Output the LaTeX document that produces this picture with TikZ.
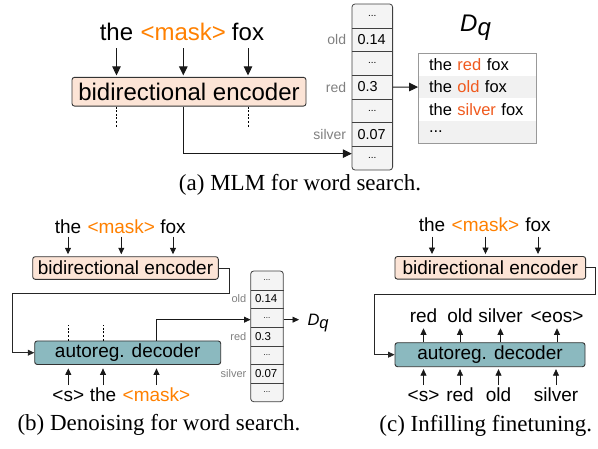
\documentclass[tikz,border=0pt]{standalone}
\usepackage{fontspec}
\setmainfont{Liberation Serif}
\newfontfamily\hv{Liberation Sans}
\usetikzlibrary{arrows.meta,calc}
\definecolor{encfill}{HTML}{FCE4D6}
\definecolor{decfill}{HTML}{8BB9BF}
\definecolor{maskc}{HTML}{FF8000}
\definecolor{hitc}{HTML}{F05A1E}
\definecolor{cellfill}{HTML}{F4F4F4}
\definecolor{rowfill}{HTML}{F1F1F1}
\definecolor{labc}{HTML}{808080}
\newcommand{\fsz}[1]{\fontsize{#1}{#1}\selectfont}
\newcommand{\msk}{\textcolor{maskc}{<mask>}}
\begin{document}
\begin{tikzpicture}[x=1pt,y=-1pt,
  every node/.style={inner sep=0pt, font=\hv},
  wordA/.style={anchor=base, font=\hv\fsz{24}},
  wordB/.style={anchor=base, font=\hv\fsz{19}},
  boxline/.style={draw=black!80, line width=0.9pt, rounded corners=2.5pt},
  encA/.style={boxline, fill=encfill, minimum width=234pt, minimum height=28.7pt, font=\hv\fsz{24}},
  encB/.style={boxline, fill=encfill, minimum height=22.6pt, font=\hv\fsz{19}},
  decB/.style={boxline, fill=decfill, minimum height=23.5pt, font=\hv\fsz{19}},
  arrA/.style={-{Triangle[length=9pt,width=8.5pt]}, line width=1pt, draw=black!90},
  arrB/.style={-{Triangle[length=6.5pt,width=6pt]}, line width=0.8pt, draw=black!90},
  conn/.style={line width=0.8pt, draw=black!85},
  dashl/.style={dash pattern=on 2pt off 1.6pt, line width=0.8pt},
  colframe/.style={draw=black!75, fill=cellfill, line width=0.8pt, rounded corners=3pt},
  cellA/.style={minimum width=40.6pt, minimum height=23.7pt, font=\hv\fsz{10}},
  valA/.style={cellA, text width=29.6pt, align=left, font=\hv\fsz{14.4}},
  labA/.style={anchor=east, text=labc, font=\hv\fsz{14}},
  cellB/.style={minimum width=32.6pt, minimum height=18.67pt, font=\hv\fsz{8}},
  valB/.style={cellB, text width=24pt, align=left, font=\hv\fsz{11.5}},
  labB/.style={anchor=east, text=labc, font=\hv\fsz{11}},
  rowL/.style={minimum width=118.4pt, minimum height=22.5pt, text width=97pt, align=left, font=\hv\fsz{16.5}},
  captxt/.style={anchor=base, font=\rmfamily\fsz{23}}
]
\useasboundingbox (0,0) rectangle (598,448);

% ================= (a) =================
\node[wordA] (aw1) at (116.5,40) {the};
\node[wordA] (aw2) at (183.3,40) {\msk};
\node[wordA] (aw3) at (248,40) {fox};
\node[encA] (encA) at (189,91.7) {bidirectional encoder};
\foreach \i in {1,2,3}
  \draw[arrA, shorten >=1.5pt] ($(aw\i.base)+(0,8.3)$) -- (aw\i.base |- encA.north);
\draw[dashl] (encA.south -| aw1) -- ++(0,20.7);
\draw[dashl] (encA.south -| aw3) -- ++(0,20.7);

% column a
\draw[colframe] (352,4) rectangle (392.6,170);
\node[cellA] (cA1) at (372.3,15.86) {...};
\node[valA]  (cA2) at (372.3,39.57) {0.14};
\node[cellA] (cA3) at (372.3,63.29) {...};
\node[valA]  (cA4) at (372.3,87.0) {0.3};
\node[cellA] (cA5) at (372.3,110.71) {...};
\node[valA]  (cA6) at (372.3,134.43) {0.07};
\node[cellA] (cA7) at (372.3,158.14) {...};
\foreach \i in {1,...,6}
  \draw[draw=black!75, line width=0.8pt] (cA\i.south west) -- (cA\i.south east);
\node[labA] (lA2) at ($(cA2.west)+(-5.5,0)$) {old};
\node[labA] (lA4) at ($(cA4.west)+(-5.5,0)$) {red};
\node[labA] (lA6) at ($(cA6.west)+(-5.5,0)$) {silver};

\draw[arrA] (encA.south -| aw2) |- ($(cA7.west)+(0,-4.5)$);

% list
\node[rowL, fill=white]   (L1) at (477.5,64.55) {the \textcolor{hitc}{red} fox};
\node[rowL, fill=rowfill] (L2) at (477.5,87.05) {the \textcolor{hitc}{old} fox};
\node[rowL, fill=white]   (L3) at (477.5,109.55) {the \textcolor{hitc}{silver} fox};
\node[rowL, fill=rowfill] (L4) at (477.5,132.05) {...};
\draw[draw=black!40, line width=0.9pt] (L1.north west) rectangle (L4.south east);
\draw[arrA] (cA4.east) -- (L2.west);
\node[anchor=base west, font=\hv\fsz{24}\itshape] (dqA) at (460,31.7) {D\raisebox{-4pt}{q}};

\node[captxt] (capA) at (300,190) {(a) MLM for word search.};

% ================= (b) =================
\node[wordB] (bw1) at (68,233.3) {the};
\node[wordB] (bw2) at (121.3,233.3) {\msk};
\node[wordB] (bw3) at (173,233.3) {fox};
\node[encB, minimum width=185.6pt] (encB) at (125.5,268) {bidirectional encoder};
\foreach \i in {1,2,3}
  \draw[arrB, shorten >=2pt] ($(bw\i.base)+(0,3.4)$) -- (bw\i.base |- encB.north);
\node[decB, minimum width=186pt] (decB) at (127.7,352.7) {autoreg. decoder};
\coordinate (bk1) at (229,293.3);
\coordinate (bk2) at (12.7,293.3);
\draw[conn, -{Triangle[length=6.5pt,width=6pt]}] (encB.east) -| (bk1) -- (bk2) |- (decB.west);

\node[wordB] (bi1) at (68.3,401.7) {<s>};
\node[wordB] (bi2) at (103,401.7) {the};
\node[wordB] (bi3) at (156.5,401.7) {\msk};
\foreach \i in {1,2,3}
  \draw[arrB, shorten >=3.5pt] ($(bi\i.base)+(0,-16.7)$) -- (bi\i.base |- decB.south);
\draw[dashl] (decB.north -| bi1) -- ++(0,-16);
\draw[dashl] (decB.north -| bi2) -- ++(0,-16);

% column b
\draw[colframe] (250.7,271) rectangle (283.3,401.7);
\node[cellB] (cB1) at (267,280.33) {...};
\node[valB]  (cB2) at (267,299.0) {0.14};
\node[cellB] (cB3) at (267,317.67) {...};
\node[valB]  (cB4) at (267,336.33) {0.3};
\node[cellB] (cB5) at (267,355.0) {...};
\node[valB]  (cB6) at (267,373.67) {0.07};
\node[cellB] (cB7) at (267,392.33) {...};
\foreach \i in {1,...,6}
  \draw[draw=black!75, line width=0.7pt] (cB\i.south west) -- (cB\i.south east);
\node[labB] (lB2) at ($(cB2.west)+(-4,0)$) {old};
\node[labB] (lB4) at ($(cB4.west)+(-4,0)$) {red};
\node[labB] (lB6) at ($(cB6.west)+(-4,0)$) {silver};

\draw[arrB] (decB.north -| bi3) |- ($(cB3.west)+(0,2)$);
\node[anchor=base west, font=\hv\fsz{16.5}\itshape] (dqB) at (307.3,325.5) {D\raisebox{-3pt}{q}};
\draw[arrB] ($(cB3.east)+(0,2)$) -- ($(cB3.east)+(15.5,2)$);

\node[captxt] (capB) at (159,430) {(b) Denoising for word search.};

% ================= (c) =================
\node[wordB] (cw1) at (432,231.7) {the};
\node[wordB] (cw2) at (485.5,231.7) {\msk};
\node[wordB] (cw3) at (538,231.7) {fox};
\node[encB, minimum width=190.7pt] (encC) at (490.3,267.8) {bidirectional encoder};
\foreach \i in {1,2,3}
  \draw[arrB, shorten >=2pt] ($(cw\i.base)+(0,5)$) -- (cw\i.base |- encC.north);
\node[decB, minimum width=190pt, minimum height=24pt] (decC) at (490,354.7) {autoreg. decoder};
\coordinate (ck1) at (595,294);
\coordinate (ck2) at (374,294);
\draw[conn, -{Triangle[length=6.5pt,width=6pt]}] (encC.east) -| (ck1) -- (ck2) |- (decC.west);

\node[wordB] (co1) at (423.5,322.7) {red};
\node[wordB] (co2) at (460,322.7) {old};
\node[wordB] (co3) at (500.5,322.7) {silver};
\node[wordB] (co4) at (557,322.7) {<eos>};
\foreach \i in {1,...,4}
  \draw[arrB] (decC.north -| co\i) -- ($(co\i.base)+(0,5.6)$);

\node[wordB] (ci1) at (423.5,401.7) {<s>};
\node[wordB] (ci2) at (460,401.7) {red};
\node[wordB] (ci3) at (498.5,401.7) {old};
\node[wordB] (ci4) at (556,401.7) {silver};
\foreach \i in {1,...,4}
  \draw[arrB, shorten >=2pt] ($(ci\i.base)+(0,-16.7)$) -- (ci\i.base |- decC.south);

\node[captxt] (capC) at (485.8,431.7) {(c) Infilling finetuning.};
\end{tikzpicture}
\end{document}
